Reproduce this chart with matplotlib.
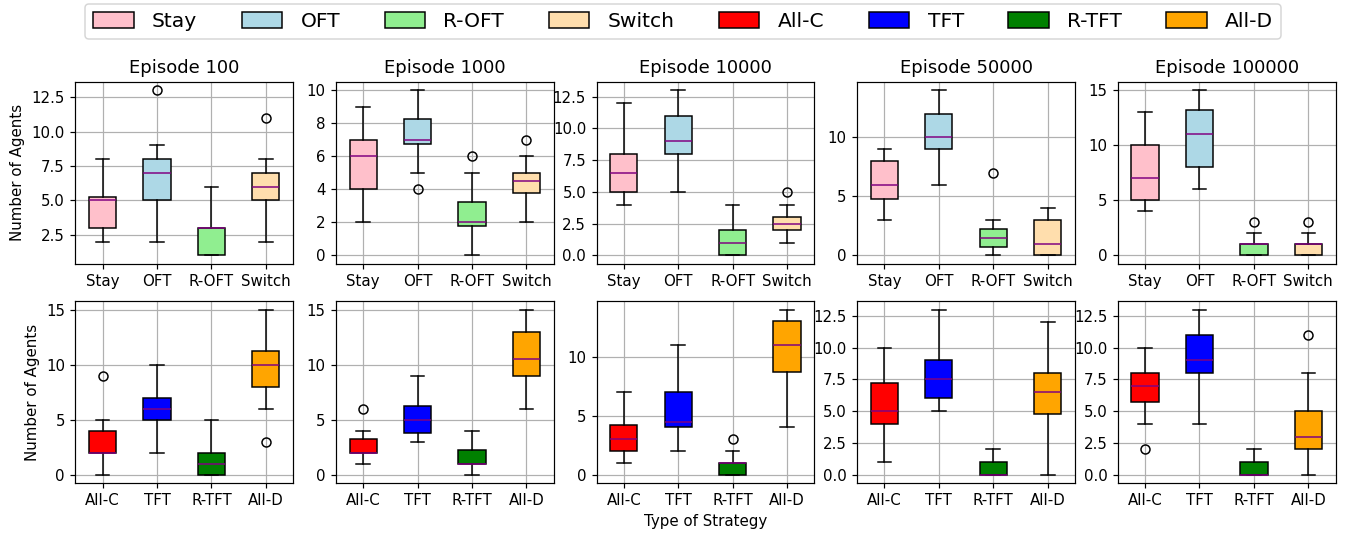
import matplotlib.pyplot as plt
from matplotlib.patches import Patch

episodes = [100, 1000, 10000, 50000, 100000]

# top row: response strategies
top_names = ["Stay", "OFT", "R-OFT", "Switch"]
top_colors = ["pink", "lightblue", "lightgreen", "navajowhite"]
top_whislo = [[2, 2, 1, 2], [2, 5, 0, 2], [4, 5, 0, 1], [3, 6, 0, 0], [4, 6, 0, 0]]
top_q1 = [[3, 5, 1, 5], [4, 6.75, 1.75, 3.75], [5, 8, 0, 2], [4.75, 9, 0.75, 0], [5, 8, 0, 0]]
top_med = [[5, 7, 3, 6], [6, 7, 2, 4.5], [6.5, 9, 1, 2.5], [6, 10, 1.5, 1], [7, 11, 1, 1]]
top_q3 = [[5.25, 8, 3, 7], [7, 8.25, 3.25, 5], [8, 11, 2, 3], [8, 12, 2.25, 3], [10, 13.25, 1, 1]]
top_whishi = [[8, 9, 6, 8], [9, 10, 5, 6], [12, 13, 4, 4], [9, 14, 3, 4], [13, 15, 2, 2]]
top_fliers = [[[], [13], [], [11]], [[], [4], [6], [7]], [[], [], [], [5]],
              [[], [], [7], []], [[], [], [3], [3]]]

# bottom row: action strategies
bot_names = ["All-C", "TFT", "R-TFT", "All-D"]
bot_colors = ["red", "blue", "green", "orange"]
bot_whislo = [[0, 2, 0, 6], [1, 3, 0, 6], [1, 2, 0, 4], [1, 5, 0, 0], [4, 4, 0, 0]]
bot_q1 = [[2, 5, 0, 8], [2, 3.75, 1, 9], [2, 4, 0, 8.75], [4, 6, 0, 4.75], [5.75, 8, 0, 2]]
bot_med = [[2, 6, 1, 10], [2, 5, 1, 10.5], [3, 4.5, 1, 11], [5, 7.5, 0, 6.5], [7, 9, 0, 3]]
bot_q3 = [[4, 7, 2, 11.25], [3.25, 6.25, 2.25, 13], [4.25, 7, 1, 13], [7.25, 9, 1, 8], [8, 11, 1, 5]]
bot_whishi = [[5, 10, 5, 15], [4, 9, 4, 15], [7, 11, 2, 14], [10, 13, 2, 12], [10, 13, 2, 8]]
bot_fliers = [[[9], [], [], [3]], [[6], [], [], []], [[], [], [3], []],
              [[], [], [], []], [[2], [], [], [11]]]


def draw(ax, names, colors, wlo, q1, med, q3, whi, fl):
    stats = []
    for i in range(len(names)):
        stats.append({"label": names[i], "whislo": wlo[i], "q1": q1[i], "med": med[i],
                      "q3": q3[i], "whishi": whi[i], "fliers": fl[i]})
    bp = ax.bxp(stats, patch_artist=True, widths=0.5,
                medianprops=dict(color="purple", linewidth=1))
    for patch, c in zip(bp["boxes"], colors):
        patch.set_facecolor(c)
        patch.set_edgecolor("black")
    ax.grid(True)


fig, axes = plt.subplots(2, 5, figsize=(1345 / 108, 533 / 108), dpi=108)
for j in range(5):
    draw(axes[0, j], top_names, top_colors, top_whislo[j], top_q1[j], top_med[j],
         top_q3[j], top_whishi[j], top_fliers[j])
    axes[0, j].set_title(f"Episode {episodes[j]}")
    draw(axes[1, j], bot_names, bot_colors, bot_whislo[j], bot_q1[j], bot_med[j],
         bot_q3[j], bot_whishi[j], bot_fliers[j])

axes[0, 0].set_ylabel("Number of Agents")
axes[1, 0].set_ylabel("Number of Agents")
axes[1, 2].set_xlabel("Type of Strategy")

handles = [Patch(facecolor=c, edgecolor="black", label=n)
           for n, c in zip(top_names + bot_names, top_colors + bot_colors)]
fig.legend(handles=handles, loc="upper center", ncol=8, fontsize=13.5,
           handletextpad=0.9, columnspacing=2.2, handleheight=0.8,
           bbox_to_anchor=(0.508, 1.012))

plt.subplots_adjust(left=0.056, right=0.993, top=0.846, bottom=0.094,
                    wspace=0.197, hspace=0.208)
plt.savefig("out.png")
